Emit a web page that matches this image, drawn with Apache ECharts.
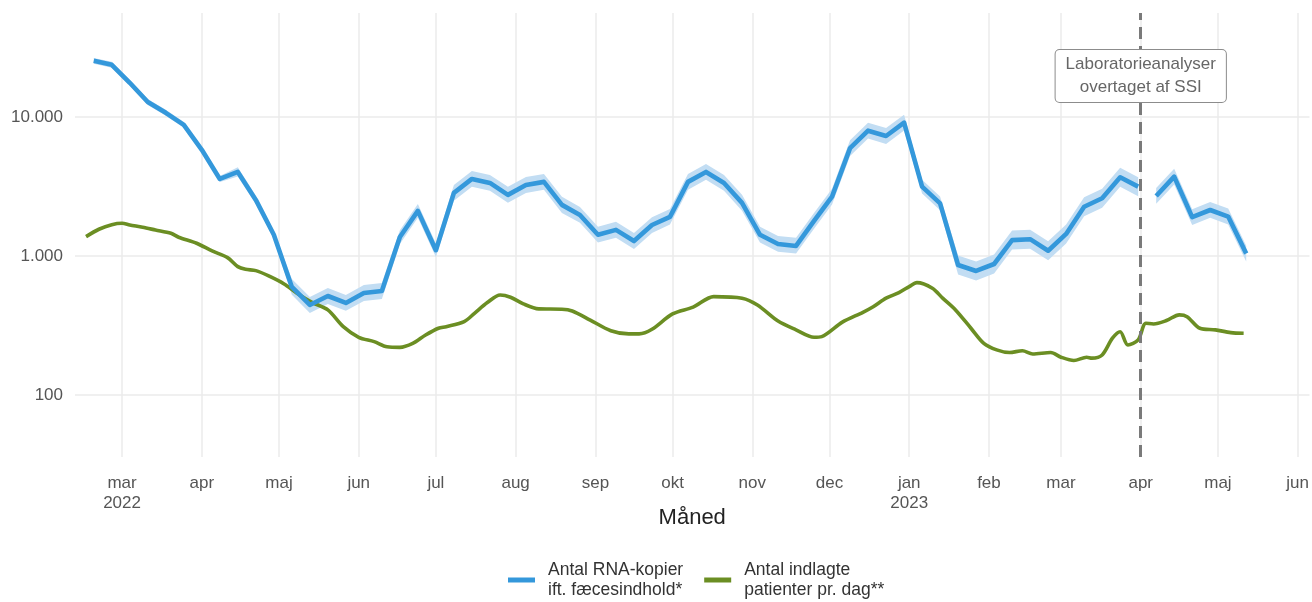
<!DOCTYPE html>
<html>
<head>
<meta charset="utf-8">
<script src="https://cdn.jsdelivr.net/npm/echarts@6/dist/echarts.min.js"></script>
<style>
html,body{margin:0;padding:0;background:#fff;}
#chart{width:1312px;height:602px;}
</style>
</head>
<body>
<div id="chart"></div>
<script>
// ---- data ----
const monthTicks = ['2022-03-01','2022-04-01','2022-05-01','2022-06-01','2022-07-01','2022-08-01','2022-09-01','2022-10-01','2022-11-01','2022-12-01','2023-01-01','2023-02-01','2023-03-01','2023-04-01','2023-05-01','2023-06-01'];
const monthNames = ['jan','feb','mar','apr','maj','jun','jul','aug','sep','okt','nov','dec'];
const labChangeDate = '2023-04-01';
const labChangeText = 'Laboratorieanalyser\novertaget af SSI';

const blueDatesBefore = ['2022-02-18','2022-02-25','2022-03-04','2022-03-11','2022-03-18','2022-03-25','2022-04-01','2022-04-08','2022-04-15','2022-04-22','2022-04-29','2022-05-06','2022-05-13','2022-05-20','2022-05-27','2022-06-03','2022-06-10','2022-06-17','2022-06-24','2022-07-01','2022-07-08','2022-07-15','2022-07-22','2022-07-29','2022-08-05','2022-08-12','2022-08-19','2022-08-26','2022-09-02','2022-09-09','2022-09-16','2022-09-23','2022-09-30','2022-10-07','2022-10-14','2022-10-21','2022-10-28','2022-11-04','2022-11-11','2022-11-18','2022-11-25','2022-12-02','2022-12-09','2022-12-16','2022-12-23','2022-12-30','2023-01-06','2023-01-13','2023-01-20','2023-01-27','2023-02-03','2023-02-10','2023-02-17','2023-02-24','2023-03-03','2023-03-10','2023-03-17','2023-03-24','2023-03-31'];
const blueValuesBefore = [25300,23700,17600,12800,10700,8760,5800,3580,4020,2530,1420,599,444,515,459,542,560,1370,2110,1100,2840,3580,3350,2750,3240,3410,2330,1970,1420,1540,1280,1670,1910,3410,4020,3350,2410,1420,1220,1180,1790,2670,5960,7960,7290,9100,3150,2390,861,780,875,1300,1320,1090,1440,2260,2600,3680,3150];
const blueLowerBefore = [24100,22570,16760,12190,10190,8340,5520,3410,3720,2360,1330,525,389,452,403,475,491,1220,1880,982,2490,3140,2940,2410,2840,2990,2040,1730,1250,1350,1120,1460,1680,2990,3530,2940,2110,1250,1070,1040,1570,2340,5230,6980,6390,7980,2810,2130,736,667,748,1111,1128,932,1231,1932,2222,3145,2692];
const blueUpperBefore = [26570,24890,18480,13440,11240,9200,6090,3760,4340,2710,1520,683,506,587,523,618,638,1530,2360,1230,3240,4080,3820,3140,3690,3890,2660,2250,1620,1760,1460,1900,2180,3890,4580,3820,2750,1620,1390,1350,2040,3040,6790,9070,8310,10370,3530,2680,1007,913,1024,1521,1544,1275,1685,2644,3042,4306,3686];

const blueDatesAfter = ['2023-04-07','2023-04-14','2023-04-21','2023-04-28','2023-05-05','2023-05-12'];
const blueValuesAfter = [2700,3720,1900,2140,1920,1040];
const blueLowerAfter = [2370,3260,1670,1880,1680,912];
const blueUpperAfter = [3080,4240,2170,2440,2190,1186];

const greenDates = ['2022-02-15','2022-02-20','2022-02-25','2022-03-01','2022-03-04','2022-03-09','2022-03-14','2022-03-20','2022-03-23','2022-03-30','2022-04-05','2022-04-11','2022-04-15','2022-04-18','2022-04-22','2022-04-27','2022-05-03','2022-05-08','2022-05-14','2022-05-20','2022-05-26','2022-06-01','2022-06-07','2022-06-12','2022-06-17','2022-06-22','2022-06-27','2022-07-02','2022-07-05','2022-07-12','2022-07-16','2022-07-21','2022-07-26','2022-07-30','2022-08-04','2022-08-10','2022-08-19','2022-08-23','2022-08-30','2022-09-07','2022-09-14','2022-09-18','2022-09-23','2022-10-01','2022-10-09','2022-10-17','2022-10-28','2022-11-03','2022-11-11','2022-11-18','2022-11-25','2022-11-28','2022-12-06','2022-12-14','2022-12-18','2022-12-23','2022-12-28','2023-01-01','2023-01-04','2023-01-10','2023-01-14','2023-01-19','2023-01-25','2023-01-30','2023-02-04','2023-02-09','2023-02-14','2023-02-18','2023-02-25','2023-03-01','2023-03-06','2023-03-11','2023-03-13','2023-03-17','2023-03-21','2023-03-24','2023-03-27','2023-03-31','2023-04-03','2023-04-06','2023-04-11','2023-04-16','2023-04-19','2023-04-24','2023-04-30','2023-05-06','2023-05-11'];
const greenValues = [1377,1556,1679,1718,1672,1608,1537,1456,1364,1234,1086,972,838,802,784,718,629,540,462,409,310,260,242,222,220,235,270,302,310,337,387,462,524,505,452,416,414,402,346,290,275,275,297,383,428,510,497,444,340,294,260,263,334,393,431,497,545,602,643,586,497,409,302,235,211,202,208,197,202,187,177,187,184,194,256,285,229,249,328,324,343,377,366,302,294,281,278];

const seriesNames = {rna: 'Antal RNA-kopier\nift. fæcesindhold*', adm: 'Antal indlagte\npatienter pr. dag**'};

// ---- build ----
function toTs(s){ return new Date(s + 'T00:00:00').getTime(); }
function pairs(dates, vals){ return dates.map((d,i)=>[toTs(d), vals[i]]); }

const tickTs = monthTicks.map(toTs);
const FONT = 'Liberation Sans, Arial, sans-serif';
const BLUE = '#3498db';
const BAND = '#c2ddf3';
const GREEN = '#6b8e23';

function bandSeries(dates, lo, up){
  const data = dates.map((d,i)=>[toTs(d), lo[i], up[i]]);
  return {
    type:'custom', silent:true, z:1, data: data,
    encode:{x:0, y:[1,2]},
    renderItem:function(params, api){
      if (params.dataIndex !== 0) return null;
      const top = [], bot = [];
      for (let i = 0; i < data.length; i++){
        top.push(api.coord([data[i][0], data[i][2]]));
        bot.push(api.coord([data[i][0], data[i][1]]));
      }
      return {type:'polygon', shape:{points: top.concat(bot.reverse())}, style:{fill:BAND}};
    }
  };
}

const chart = echarts.init(document.getElementById('chart'), null, {renderer:'canvas'});
const option = {
  animation:false,
  backgroundColor:'#fff',
  textStyle:{fontFamily:FONT},
  grid:{left:75, right:2, top:13, bottom:145, containLabel:false},
  legend:{
    data:[seriesNames.rna, seriesNames.adm],
    left:503, top:555,
    icon:'rect', itemWidth:27, itemHeight:5, itemGap:21,
    textStyle:{fontFamily:FONT, fontSize:17.5, color:'#333', lineHeight:20, padding:[0,0,0,8]}
  },
  xAxis:{
    type:'value',
    min: new Date(2022,1,10,17).getTime(),
    max: new Date(2023,5,5,14).getTime(),
    name:'Måned', nameLocation:'middle', nameGap:50, nameMoveOverlap:false,
    nameTextStyle:{fontFamily:FONT, fontSize:22, color:'#222'},
    axisLine:{show:false},
    axisTick:{show:false, customValues: tickTs},
    splitLine:{show:true, lineStyle:{color:'#ebebeb', width:1.5}},
    axisLabel:{
      customValues: tickTs,
      margin:16, fontFamily:FONT, fontSize:17, color:'#555', lineHeight:20,
      formatter:function(v){
        const d = new Date(v); const m = d.getMonth();
        let s = monthNames[m];
        if (Math.abs(v - tickTs[0]) < 1000 || m === 0) s += '\n' + d.getFullYear();
        return s;
      }
    }
  },
  yAxis:{
    type:'log', logBase:10, min:35.8, max:55900,
    axisLine:{show:false}, axisTick:{show:false},
    splitLine:{show:true, showMinLine:false, showMaxLine:false, lineStyle:{color:'#ebebeb', width:1.5}},
    axisLabel:{
      showMinLabel:false, showMaxLabel:false,
      margin:12, fontFamily:FONT, fontSize:17, color:'#555',
      formatter:function(v){
        const l = Math.log10(v);
        if (Math.abs(l - Math.round(l)) > 1e-6) return '';
        return Math.round(v).toString().replace(/\B(?=(\d{3})+(?!\d))/g, '.');
      }
    }
  },
  series:[
    bandSeries(blueDatesBefore, blueLowerBefore, blueUpperBefore),
    bandSeries(blueDatesAfter, blueLowerAfter, blueUpperAfter),
    {type:'line', name: seriesNames.adm, data: pairs(greenDates, greenValues), symbol:'none', smooth:0.3,
     lineStyle:{color:GREEN, width:3.6}, itemStyle:{color:GREEN}, z:3},
    {type:'line', name: seriesNames.rna, data: pairs(blueDatesBefore, blueValuesBefore), symbol:'none',
     lineStyle:{color:BLUE, width:4.6, join:'round'}, itemStyle:{color:BLUE}, z:4,
     markLine:{silent:true, symbol:'none', label:{show:false},
       lineStyle:{color:'#7a7a7a', width:3, type:[12,7]},
       data:[{xAxis: toTs(labChangeDate)}]},
     markPoint:{silent:true, symbol:'rect', symbolSize:0,
       data:[{coord:[toTs(labChangeDate), 19700]}],
       label:{show:true, position:'inside', formatter: labChangeText,
         fontFamily:FONT, fontSize:17, color:'#666', lineHeight:23,
         backgroundColor:'#fff', borderColor:'#8c8c8c', borderWidth:1, borderRadius:4,
         padding:[3,10,3,10], align:'center', verticalAlign:'middle'}}
    },
    {type:'line', name: seriesNames.rna, data: pairs(blueDatesAfter, blueValuesAfter), symbol:'none',
     lineStyle:{color:BLUE, width:4.6, join:'round'}, itemStyle:{color:BLUE}, z:4}
  ]
};
chart.setOption(option);
</script>
</body>
</html>
